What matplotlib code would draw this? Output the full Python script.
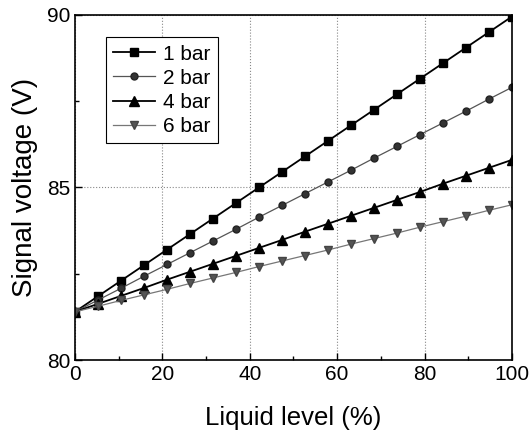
import matplotlib
matplotlib.use('Agg')
import matplotlib.pyplot as plt
import numpy as np

plt.rcParams['font.family'] = ['Liberation Sans', 'DejaVu Sans']

level = np.linspace(0, 100, 20)
bar1 = [81.4, 81.85, 82.3, 82.75, 83.2, 83.65, 84.1, 84.55, 85.0, 85.45,
        85.9, 86.35, 86.8, 87.25, 87.7, 88.15, 88.6, 89.05, 89.5, 89.95]
bar2 = [81.4, 81.74, 82.08, 82.43, 82.77, 83.11, 83.45, 83.79, 84.14, 84.48,
        84.82, 85.16, 85.5, 85.85, 86.19, 86.53, 86.87, 87.21, 87.56, 87.9]
bar4 = [81.4, 81.63, 81.86, 82.09, 82.33, 82.56, 82.79, 83.02, 83.25, 83.48,
        83.72, 83.95, 84.18, 84.41, 84.64, 84.87, 85.11, 85.34, 85.57, 85.8]
bar6 = [81.4, 81.56, 81.73, 81.89, 82.05, 82.22, 82.38, 82.54, 82.71, 82.87,
        83.03, 83.19, 83.36, 83.52, 83.68, 83.85, 84.01, 84.17, 84.34, 84.5]


def main():
    fig = plt.figure(figsize=(5.3, 4.36), dpi=100)
    ax = fig.add_axes([0.1415, 0.174, 0.8245, 0.792])

    ax.plot(level, bar1, '-s', color='black', lw=1.3, ms=5.5, label='1 bar')
    ax.plot(level, bar2, '-o', color='#555555', mfc='#333333', mec='#222222',
            lw=0.9, ms=5, label='2 bar')
    ax.plot(level, bar4, '-^', color='black', lw=1.3, ms=6.5, label='4 bar')
    ax.plot(level, bar6, '-v', color='#777777', mfc='#555555', mec='#444444',
            lw=0.9, ms=5.5, label='6 bar')

    ax.set_xlim(0, 100)
    ax.set_ylim(80, 90)
    ax.set_xticks([0, 20, 40, 60, 80, 100])
    ax.set_xticks([10, 30, 50, 70, 90], minor=True)
    ax.set_yticks([80, 85, 90])
    ax.set_yticks([82.5, 87.5], minor=True)
    ax.tick_params(which='both', direction='in', labelsize=15, width=1)
    ax.tick_params(which='major', length=5)
    ax.tick_params(which='minor', length=3)
    ax.grid(True, which='major', linestyle=':', color='#888888', lw=0.8)
    for s in ax.spines.values():
        s.set_linewidth(1.2)

    ax.set_xlabel('Liquid level (%)', fontsize=18.5, labelpad=16)
    ax.set_ylabel('Signal voltage (V)', fontsize=20, labelpad=6)

    leg = ax.legend(loc='upper left', bbox_to_anchor=(0.07, 0.935), fontsize=15,
                    fancybox=False, edgecolor='black', framealpha=1,
                    handlelength=2.0, handletextpad=0.4, borderpad=0.35,
                    labelspacing=0.25, borderaxespad=0)
    leg.get_frame().set_linewidth(0.8)

    fig.savefig('out.png', dpi=100)


if __name__ == '__main__':
    main()
